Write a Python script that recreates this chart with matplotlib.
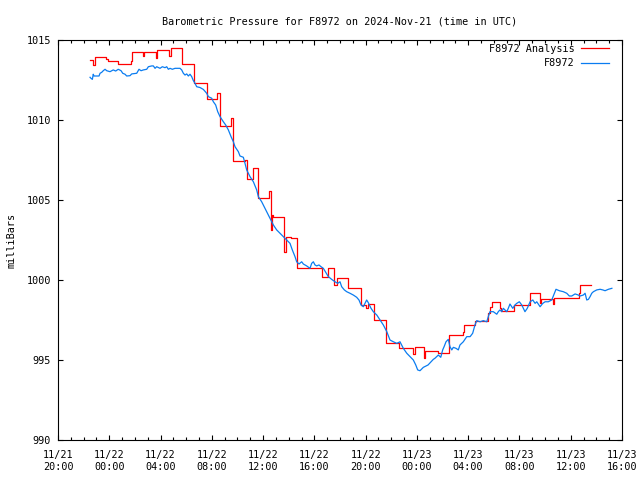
import matplotlib
matplotlib.use("Agg")
import matplotlib.pyplot as plt
import matplotlib.dates as mdates
import numpy as np
import pandas as pd

# ---- data (hours after 2024-11-21 20:00 UTC, pressure in mb) ----
base_time = "2024-11-21 20:00"

obs_hours = [2.50, 2.57, 2.68, 2.75, 2.81, 3.20, 3.28, 3.41, 3.53, 3.67, 3.80, 4.06, 4.31, 4.50,
             4.70, 4.92, 5.05, 5.23, 5.36, 5.62, 5.75, 6.14, 6.32, 6.48, 6.66, 6.92, 7.05, 7.31,
             7.44, 7.57, 7.70, 7.96, 8.14, 8.35, 8.48, 8.61, 8.74, 8.92, 9.13, 9.52, 9.65, 9.78,
             9.91, 10.04, 10.17, 10.30, 10.43, 10.56, 10.69, 10.82, 11.08, 11.34, 11.60, 11.73,
             11.99, 12.12, 12.30, 12.46, 12.64, 12.90, 13.08, 13.29, 13.50, 13.68, 13.81, 14.07,
             14.20, 14.46, 14.59, 14.72, 14.98, 15.24, 15.50, 15.63, 15.89, 16.15, 16.41, 16.62,
             16.80, 17.06, 17.32, 17.58, 17.84, 18.10, 18.28, 18.49, 18.62, 18.80, 19.01, 19.14,
             19.40, 19.66, 19.79, 19.92, 20.05, 20.18, 20.36, 20.52, 20.70, 20.96, 21.09, 21.35,
             21.61, 21.82, 22.00, 22.13, 22.34, 22.52, 22.78, 23.04, 23.30, 23.48, 23.64, 23.82,
             24.08, 24.21, 24.42, 24.60, 24.87, 25.12, 25.38, 25.65, 25.90, 26.16, 26.43, 26.68,
             26.94, 27.21, 27.46, 27.72, 27.91, 28.06, 28.24, 28.50, 28.87, 29.28, 29.41, 29.67,
             29.86, 30.01, 30.12, 30.27, 30.45, 30.58, 30.72, 30.84, 31.05, 31.23, 31.36, 31.62,
             31.89, 32.15, 32.35, 32.53, 32.67, 32.93, 33.18, 33.45, 33.57, 33.70, 33.96, 34.23,
             34.35, 34.48, 34.62, 34.74, 35.01, 35.13, 35.26, 35.48, 35.65, 35.79, 35.99, 36.18,
             36.43, 36.61, 36.83, 37.04, 37.22, 37.35, 37.61, 37.82, 38.00, 38.25, 38.52, 38.64,
             38.85, 39.11, 39.42, 39.69, 39.89, 40.08, 40.34, 40.59, 40.73, 40.98, 41.12, 41.25,
             41.38, 41.51, 41.64, 41.77, 42.03, 42.29, 42.50, 42.68, 42.94, 43.21]
obs_mb = [1012.67, 1012.61, 1012.54, 1012.86, 1012.75, 1012.75, 1012.92, 1012.98, 1013.08, 1013.17,
          1013.08, 1013.02, 1013.13, 1013.06, 1013.17, 1013.08, 1012.92, 1012.86, 1012.75, 1012.77,
          1012.88, 1012.92, 1013.17, 1013.08, 1013.13, 1013.17, 1013.33, 1013.38, 1013.38, 1013.23,
          1013.33, 1013.23, 1013.33, 1013.27, 1013.33, 1013.17, 1013.23, 1013.17, 1013.23, 1013.23,
          1013.13, 1012.92, 1012.81, 1012.88, 1012.75, 1012.86, 1012.71, 1012.46, 1012.29, 1012.08,
          1012.03, 1011.91, 1011.67, 1011.46, 1011.36, 1011.14, 1010.94, 1010.52, 1010.21, 1009.89,
          1009.69, 1009.38, 1008.96, 1008.64, 1008.33, 1008.02, 1007.75, 1007.67, 1007.29, 1006.88,
          1006.46, 1006.14, 1005.63, 1005.21, 1004.89, 1004.48, 1004.06, 1003.75, 1003.44, 1003.13,
          1002.92, 1002.71, 1002.50, 1002.29, 1001.88, 1001.46, 1001.14, 1001.00, 1001.14, 1001.00,
          1000.88, 1000.73, 1001.04, 1001.14, 1000.94, 1000.88, 1000.94, 1000.83, 1000.73, 1000.38,
          1000.21, 1000.04, 999.89, 999.79, 999.89, 999.58, 999.38, 999.27, 999.17, 999.06,
          998.92, 998.75, 998.44, 998.33, 998.75, 998.58, 998.23, 998.02, 997.81, 997.50,
          997.19, 996.77, 996.25, 996.14, 996.04, 996.14, 995.73, 995.42, 995.21, 995.00,
          994.69, 994.38, 994.33, 994.54, 994.69, 995.04, 995.11, 995.31, 995.17, 995.63,
          995.83, 996.14, 996.29, 995.83, 995.63, 995.79, 995.73, 995.63, 995.94, 996.14,
          996.46, 996.46, 996.67, 997.19, 997.46, 997.39, 997.46, 997.39, 997.71, 998.02,
          998.02, 997.86, 998.02, 998.13, 998.02, 998.23, 998.02, 998.23, 998.50, 998.23,
          998.44, 998.54, 998.64, 998.44, 998.02, 998.23, 998.64, 998.75, 998.54, 998.64,
          998.33, 998.54, 998.64, 998.64, 998.75, 999.00, 999.42, 999.33, 999.27, 999.17,
          999.00, 999.00, 999.13, 999.06, 999.00, 999.06, 999.17, 998.75, 998.79, 998.96,
          999.17, 999.27, 999.38, 999.42, 999.38, 999.33, 999.42, 999.48]

ana_hours = [2.50, 2.75, 2.85, 3.74, 3.90, 4.68, 5.70, 5.77, 6.63, 6.71, 7.61, 7.72, 8.66, 8.78,
             9.64, 10.61, 11.63, 12.41, 12.60, 13.46, 13.65, 14.55, 14.71, 15.21, 15.60, 16.46,
             16.60, 16.70, 16.80, 17.63, 17.75, 18.18, 18.61, 18.67, 20.56, 21.09, 21.57, 21.75,
             22.61, 23.62, 24.03, 24.15, 24.62, 25.58, 26.60, 27.67, 27.84, 28.56, 28.67, 29.67,
             30.53, 31.57, 31.69, 32.53, 33.57, 33.70, 33.84, 34.45, 34.56, 35.54, 36.79, 37.57,
             37.68, 38.62, 38.71, 40.63, 40.73, 41.56]
ana_mb = [1013.75, 1013.44, 1013.92, 1013.81, 1013.71, 1013.50, 1013.71, 1014.23, 1014.00, 1014.27,
          1013.86, 1014.38, 1014.00, 1014.48, 1013.50, 1012.33, 1011.31, 1011.71, 1009.63, 1010.11,
          1007.44, 1007.50, 1006.33, 1006.98, 1005.11, 1005.56, 1003.13, 1004.06, 1003.91, 1001.77,
          1002.71, 1002.63, 1001.69, 1000.73, 1000.17, 1000.73, 999.69, 1000.14, 999.50, 998.44,
          998.25, 998.48, 997.50, 996.04, 995.73, 995.38, 995.79, 995.11, 995.56, 995.42,
          996.56, 996.78, 997.19, 997.46, 997.94, 998.31, 998.61, 998.23, 998.06, 998.44,
          999.17, 998.54, 998.81, 998.48, 998.86, 999.17, 999.69, 999.69]

y_ticks = [990, 995, 1000, 1005, 1010, 1015]
title = "Barometric Pressure for F8972 on 2024-Nov-21 (time in UTC)"

# ---- plot ----
plt.rcParams['font.family'] = ['DejaVu Sans Mono']
FS = 7.3

t0 = pd.Timestamp(base_time)
obs_t = t0 + pd.to_timedelta(obs_hours, unit="h")
ana_t = t0 + pd.to_timedelta(ana_hours, unit="h")

fig = plt.figure(figsize=(6.4, 4.8), dpi=100)
ax = fig.add_axes([58/640, 40/480, 564/640, 400/480])

ax.plot(ana_t, ana_mb, drawstyle="steps-post", color="#ff0000", lw=0.9, label="F8972 Analysis")
ax.plot(obs_t, obs_mb, color="#0a7cf0", lw=0.9, label="F8972")

ax.set_xlim(t0, t0 + pd.Timedelta(hours=44))
ax.set_ylim(990, 1015)
ax.set_yticks(y_ticks)
ax.set_yticklabels([str(v) for v in y_ticks], fontsize=FS)

ax.xaxis.set_major_locator(mdates.HourLocator(byhour=range(0, 24, 4)))
ax.xaxis.set_minor_locator(mdates.HourLocator())
ax.xaxis.set_major_formatter(mdates.DateFormatter("%m/%d\n%H:%M"))
for lab in ax.get_xticklabels():
    lab.set_fontsize(FS)
    lab.set_linespacing(1.3)

ax.tick_params(axis="y", which="major", direction="in", length=3.4, width=0.8,
               right=True, pad=5, labelsize=FS)
ax.tick_params(axis="x", which="major", direction="in", length=3.4, width=0.8,
               top=True, pad=7, labelsize=FS)
ax.tick_params(axis="x", which="minor", direction="in", length=2.2, width=0.8, top=True)
for s in ax.spines.values():
    s.set_linewidth(0.8)

ax.set_ylabel("milliBars", fontsize=FS, labelpad=7)
ax.set_title(title, fontsize=FS, pad=11)

leg = ax.legend(loc="upper right", bbox_to_anchor=(0.977, 0.99), fontsize=FS,
                frameon=False, markerfirst=False, handlelength=2.8, borderaxespad=0,
                borderpad=0, labelspacing=0.4, handletextpad=0.6)
for t in leg.get_texts():
    t.set_ha("right")

fig.savefig("out.png", dpi=100)
